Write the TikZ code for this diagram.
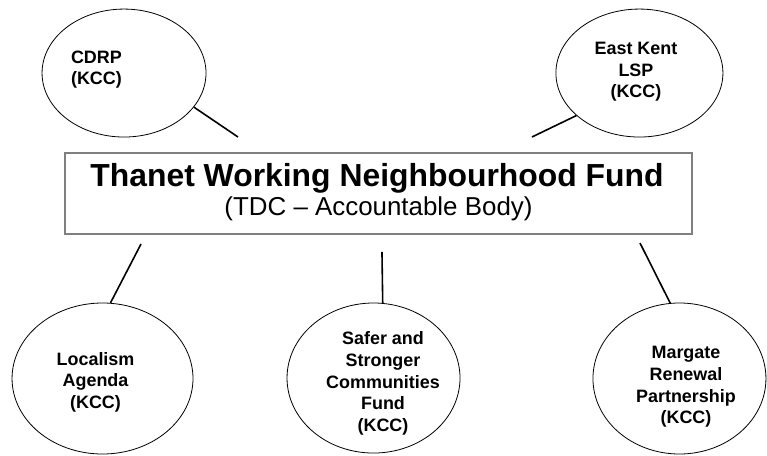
\documentclass[tikz,border=0pt]{standalone}
\usepackage{fontspec}
\setmainfont{Liberation Sans}
\usetikzlibrary{shapes.geometric}
\begin{document}
\begin{tikzpicture}
[line width=0.6pt,
bubble/.style={draw, ellipse, inner sep=0pt},
bubtext/.style={font=\fontsize{13.5}{16.3}\selectfont\bfseries, align=center, inner sep=0pt},
link/.style={line width=1.2pt}]
\useasboundingbox (0,0) rectangle (7.990in,4.740in);
\node[draw=gray, line width=1.1pt, minimum width=6.531in, minimum height=0.844in,
inner sep=0pt] (twnf) at (3.943in,2.724in) {};
\node[anchor=base, inner sep=0pt, font=\fontsize{24}{28}\selectfont\bfseries] (twnftitle)
at (3.927in,2.802in) {Thanet Working Neighbourhood Fund};
\node[anchor=base, inner sep=0pt, font=\fontsize{19.5}{24}\selectfont] (twnfbody)
at (3.943in,2.490in) {(TDC – Accountable Body)};
\foreach \nm/\x/\y/\w/\h in {cdrp/1.292/3.979/1.708/1.333,
ekent/6.661/3.979/1.740/1.333,local/1.068/0.797/1.885/1.573,
safer/3.891/0.802/1.802/1.563,mrp/7.078/0.797/1.802/1.573}{
\node[bubble, minimum width={\w*1in}, minimum height={\h*1in}] (\nm)
at ({\x*1in},{\y*1in}) {};
}
\node[bubtext, anchor=west, align=left] (cdrptext) at (0.736in,4.015in) {CDRP\\(KCC)};
\node[bubtext] (ekenttext) at (6.625in,3.990in) {East Kent\\LSP\\(KCC)};
\node[bubtext] (localtext) at (0.995in,0.760in) {Localism\\Agenda\\(KCC)};
\node[bubtext] (safertext) at (3.990in,0.745in)
{Safer and\\Stronger\\Communities\\Fund\\(KCC)};
\node[bubtext] (mrptext) at (7.146in,0.708in) {Margate\\Renewal\\Partnership\\(KCC)};
\foreach \nm/\a/\x/\y in {cdrp/334/2.479/3.313,ekent/214/5.542/3.313,
local/84/1.469/2.198,safer/83.5/3.979/2.115,mrp/97/6.667/2.208}{
\coordinate (\nm-end) at ({\x*1in},{\y*1in});
\draw[link] (\nm.\a) -- (\nm-end);
}
%\draw[step=0.1in, thin] (0,0) grid (7.990in,4.740in);
\end{tikzpicture}
\end{document}
